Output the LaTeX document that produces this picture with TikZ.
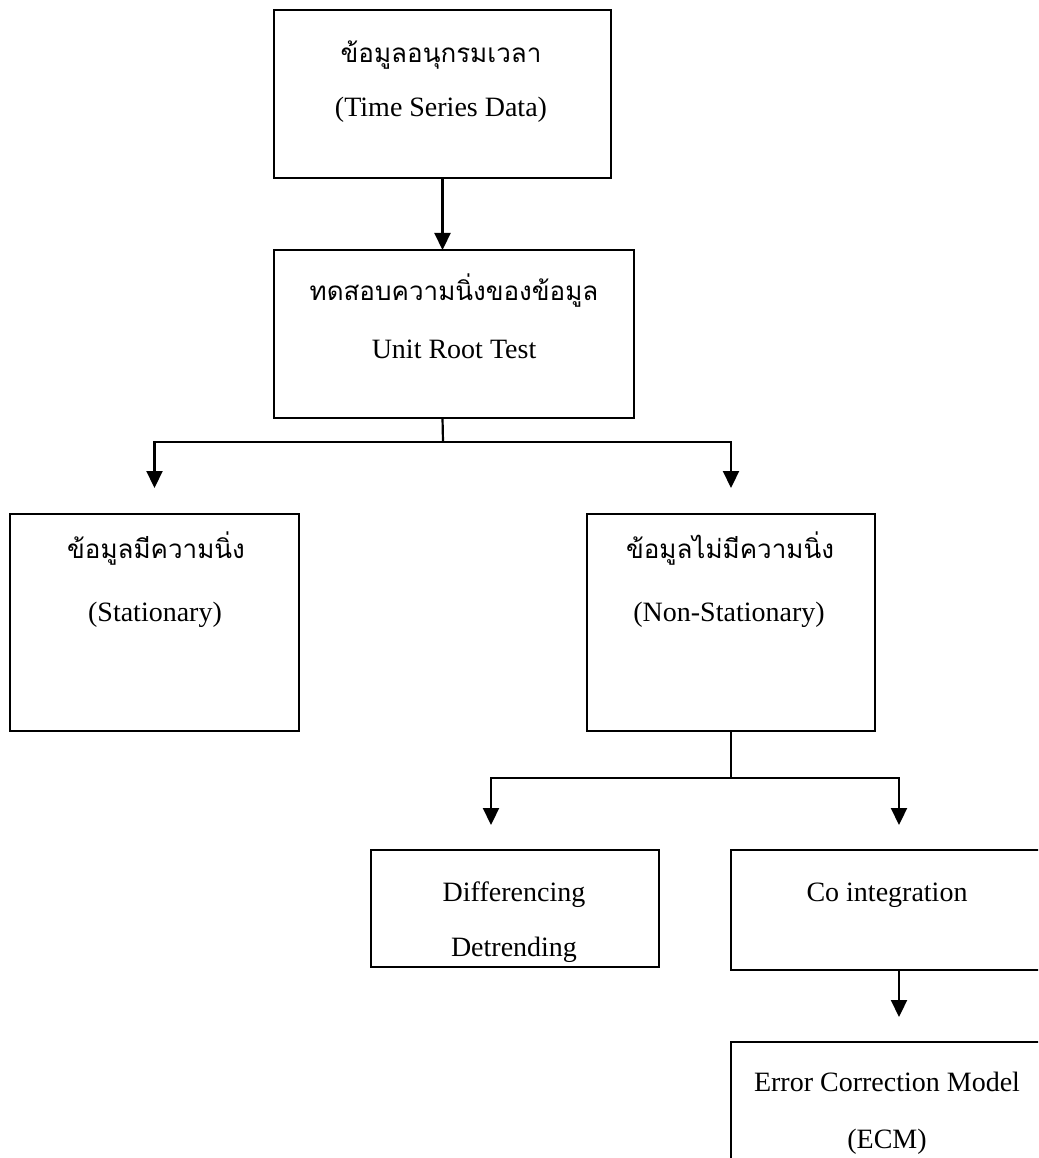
\documentclass[tikz,border=0pt]{standalone}
\usepackage{fontspec}
\setmainfont{Liberation Serif}
\newfontfamily\thaifont[Script=Thai]{Loma}
\usetikzlibrary{arrows.meta,calc}
\begin{document}
\begin{tikzpicture}[x=1pt,y=-1pt,
  boxnode/.style={draw, line width=2.2pt, inner sep=0pt, outer sep=0pt},
  en/.style={font=\fontsize{28}{30}\selectfont, anchor=base, inner sep=0pt},
  th/.style={font=\thaifont\fontsize{26}{30}\selectfont, anchor=base, inner sep=0pt},
  conn/.style={line width=2.2pt},
  arr/.style={line width=2.2pt, -{Triangle[length=17pt,width=16pt]}}
]
\clip (0,0) rectangle (1038,1158);
\fill[white] (0,0) rectangle (1038,1158);

% boxes
\node[boxnode, minimum width=337pt, minimum height=168pt] (b1) at (442.5,94) {};
\node[boxnode, minimum width=360pt, minimum height=168pt] (b2) at (454,334) {};
\node[boxnode, minimum width=289pt, minimum height=217pt] (st) at (154.5,622.5) {};
\node[boxnode, minimum width=288pt, minimum height=217pt] (ns) at (731,622.5) {};
\node[boxnode, minimum width=288pt, minimum height=117pt] (df) at (515,908.5) {};
\node[boxnode, minimum width=336pt, minimum height=120pt] (co) at (899,910) {};
\node[boxnode, minimum width=336pt, minimum height=160pt] (ecm) at (899,1122) {};

% texts
\node[th] (b1a) at (441,63) {ข้อมูลอนุกรมเวลา};
\node[en] (b1b) at (441,117) {(Time Series Data)};
\node[th] (b2a) at (454,300) {ทดสอบความนิ่งของข้อมูล};
\node[en] (b2b) at (454,358) {Unit Root Test};
\node[th] (sta) at (156,558) {ข้อมูลมีความนิ่ง};
\node[en] (stb) at (155,621) {(Stationary)};
\node[th] (nsa) at (730,558) {ข้อมูลไม่มีความนิ่ง};
\node[en] (nsb) at (729,621) {(Non-Stationary)};
\node[en] (dfa) at (514,901) {Differencing};
\node[en] (dfb) at (514,956) {Detrending};
\node[en] (coa) at (887,901) {Co integration};
\node[en] (ecma) at (887,1091) {Error Correction Model};
\node[en] (ecmb) at (887,1148) {(ECM)};

% connectors
\coordinate (j1) at (443,442);
\coordinate (j2) at (731,778);
\coordinate (dfin) at (491,850);
\draw[arr] (b1.south) -- (b1.south |- b2.north);
\draw[conn] (b1.south |- b2.south) -- (j1);
\draw[arr, shorten >=26pt] (j1) -| (st.north);
\draw[arr, shorten >=26pt] (j1) -| (ns.north);
\draw[conn] (ns.south) -- (j2);
\draw[arr, shorten >=25pt] (j2) -| (dfin);
\draw[arr, shorten >=25pt] (j2) -| (co.north);
\draw[arr, shorten >=25pt] (co.south) -- (ecm.north);
\end{tikzpicture}
\end{document}
